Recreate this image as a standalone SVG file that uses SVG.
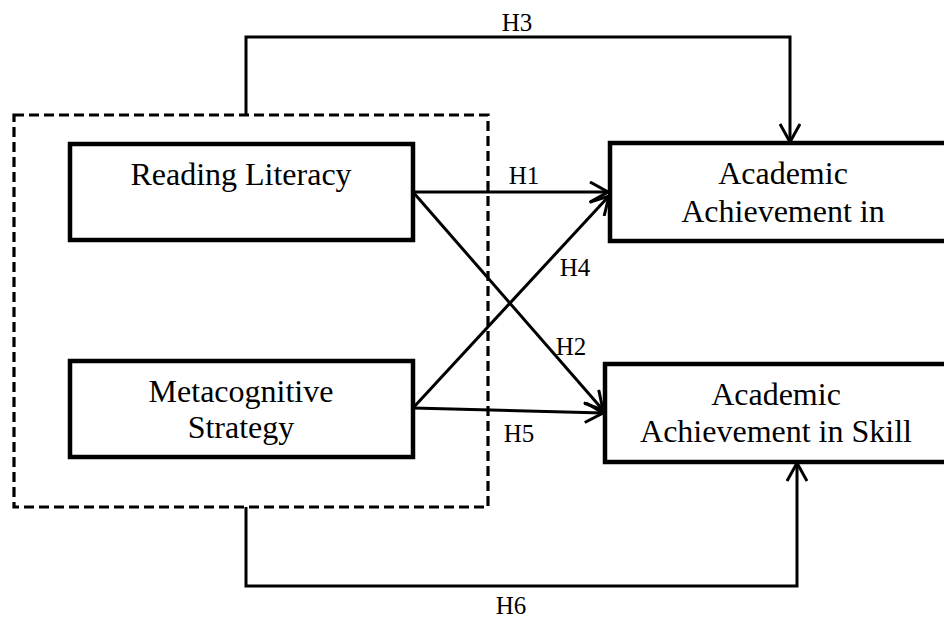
<svg xmlns="http://www.w3.org/2000/svg" width="944" height="620" viewBox="0 0 944 620">
<style>
.box{fill:#fff;stroke:#000;stroke-width:4.5}
.grp{fill:none;stroke:#000;stroke-width:3.2;stroke-dasharray:10 5}
.t{font-family:"Liberation Serif","Times New Roman",serif;font-size:32px;fill:#000;text-anchor:middle}
.lb{font-family:"Liberation Serif","Times New Roman",serif;font-size:25px;fill:#000;text-anchor:middle}
.c{fill:none;stroke:#000;stroke-width:3;marker-end:url(#ah)}
</style>
<defs>
<marker id="ah" viewBox="0 0 20 22" refX="19" refY="11" markerWidth="20" markerHeight="22" markerUnits="userSpaceOnUse" orient="auto">
<path d="M1,1 L19,11 L1,21" fill="none" stroke="#000" stroke-width="3" stroke-linejoin="miter"/>
</marker>
</defs>
<rect class="grp" x="14" y="115" width="474" height="392"/>
<g id="reading">
<rect class="box" x="70" y="144" width="343" height="96"/>
<text class="t" x="241" y="185">Reading Literacy</text>
</g>
<g id="meta">
<rect class="box" x="70" y="361" width="343" height="96"/>
<text class="t" x="241" y="402">Metacognitive</text>
<text class="t" x="241" y="438">Strategy</text>
</g>
<g id="achieve">
<rect class="box" x="610" y="143" width="350" height="98"/>
<text class="t" x="783" y="184">Academic</text>
<text class="t" x="783" y="222">Achievement in</text>
</g>
<g id="skill">
<rect class="box" x="605" y="364" width="355" height="98"/>
<text class="t" x="776" y="405">Academic</text>
<text class="t" x="776" y="442">Achievement in Skill</text>
</g>
<g id="connectors">
<path class="c" d="M246,115 V37 H790 V142"/>
<path class="c" d="M246,507 V586 H797 V463"/>
<path class="c" d="M413,192 L608,192"/>
<path class="c" d="M413,192 L603,410"/>
<path class="c" d="M413,408 L609,196"/>
<path class="c" d="M413,408 L603,413"/>
<text class="lb" x="517" y="31">H3</text>
<text class="lb" x="524" y="184">H1</text>
<text class="lb" x="575" y="276">H4</text>
<text class="lb" x="571" y="355">H2</text>
<text class="lb" x="519" y="442">H5</text>
<text class="lb" x="511" y="614">H6</text>
</g>
</svg>
